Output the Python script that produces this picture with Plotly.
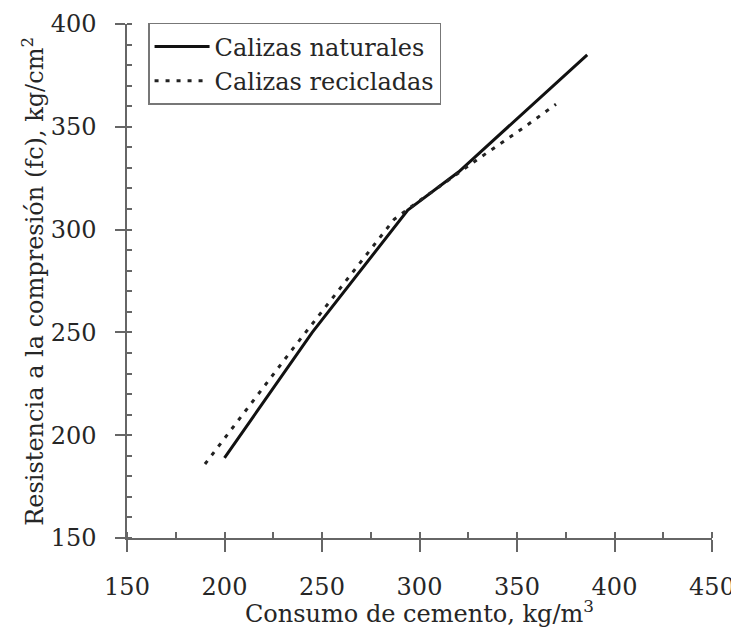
import plotly.graph_objects as go

# Data
nat_x = [200, 245, 294, 320, 386]
nat_y = [189, 250, 309.5, 328, 385]
rec_x = [190, 235, 287, 297, 331, 354, 370]
rec_y = [186, 242, 305, 312, 335, 350, 361]

series_names = ["Calizas naturales", "Calizas recicladas"]
x_ticks = [150, 200, 250, 300, 350, 400, 450]
y_ticks = [150, 200, 250, 300, 350, 400]
x_title = "Consumo de cemento, kg/m<sup>3</sup>"
y_title = "Resistencia a la compresión (fc), kg/cm<sup>2</sup>"

FONT = "DejaVu Serif"
TXT = "#262626"
AX = "#666666"

# the page body has an 8px margin: figure drawn at (8, 8)
fig = go.Figure()
fig.add_trace(go.Scatter(x=nat_x, y=nat_y, mode="lines", name=series_names[0],
                         line=dict(color="#111111", width=3)))
fig.add_trace(go.Scatter(x=rec_x, y=rec_y, mode="lines", name=series_names[1],
                         line=dict(color="#222222", width=3, dash="4px,7px")))
# empty trace to register overlay axes
fig.add_trace(go.Scatter(x=[], y=[], xaxis="x2", yaxis="y2", showlegend=False,
                         hoverinfo="skip"))

fig.update_layout(
    width=731, height=624,
    margin=dict(l=119, r=27, t=16, b=94),
    paper_bgcolor="white", plot_bgcolor="white",
    font=dict(family=FONT, size=24, color=TXT),
    showlegend=True,
    legend=dict(x=0.036, y=1.002, xanchor="left", yanchor="top",
                bgcolor="white", bordercolor="#777777", borderwidth=1.5,
                font=dict(family=FONT, size=24, color=TXT),
                tracegroupgap=0, itemwidth=55),
    xaxis=dict(range=[150, 450], tickvals=x_ticks, ticktext=[str(v) for v in x_ticks],
               automargin=False, ticklabeloverflow="allow",
               showgrid=False, zeroline=False, showline=True, linecolor=AX, linewidth=1.5,
               ticks="outside", ticklen=12, tickwidth=1.5, tickcolor=AX,
               ticklabelstandoff=14,
               minor=dict(ticks="inside", dtick=25, tick0=150, ticklen=6, tickwidth=1.5, tickcolor=AX, showgrid=False),
               tickfont=dict(family=FONT, size=24, color=TXT)),
    yaxis=dict(range=[150, 400], tickvals=y_ticks, ticktext=[str(v) for v in y_ticks],
               automargin=False, ticklabeloverflow="allow",
               showgrid=False, zeroline=False, showline=True, linecolor=AX, linewidth=1.5,
               ticks="outside", ticklen=10, tickwidth=1.5, tickcolor=AX,
               ticklabelstandoff=14,
               minor=dict(ticks="inside", dtick=10, tick0=150, ticklen=5, tickwidth=1.5, tickcolor=AX, showgrid=False),
               tickfont=dict(family=FONT, size=24, color=TXT)),
    xaxis2=dict(range=[150, 450], overlaying="x", anchor="y2", tickvals=x_ticks,
                automargin=False,
                showticklabels=False, showgrid=False, zeroline=False, showline=False,
                ticks="inside", ticklen=5, tickwidth=1.5, tickcolor=AX, side="bottom"),
    yaxis2=dict(range=[150, 400], overlaying="y", anchor="x2", tickvals=y_ticks,
                automargin=False,
                showticklabels=False, showgrid=False, zeroline=False, showline=False,
                ticks="inside", ticklen=5, tickwidth=1.5, tickcolor=AX, side="left"),
    annotations=[
        dict(text=x_title, xref="paper", yref="paper", x=0.5, y=-0.144,
             xanchor="center", yanchor="middle", showarrow=False,
             font=dict(family=FONT, size=24, color=TXT)),
        dict(text=y_title, xref="paper", yref="paper", x=-0.161, y=0.5,
             xanchor="center", yanchor="middle", textangle=-90, showarrow=False,
             font=dict(family=FONT, size=24, color=TXT)),
    ],
)

fig.write_html("out.html")
